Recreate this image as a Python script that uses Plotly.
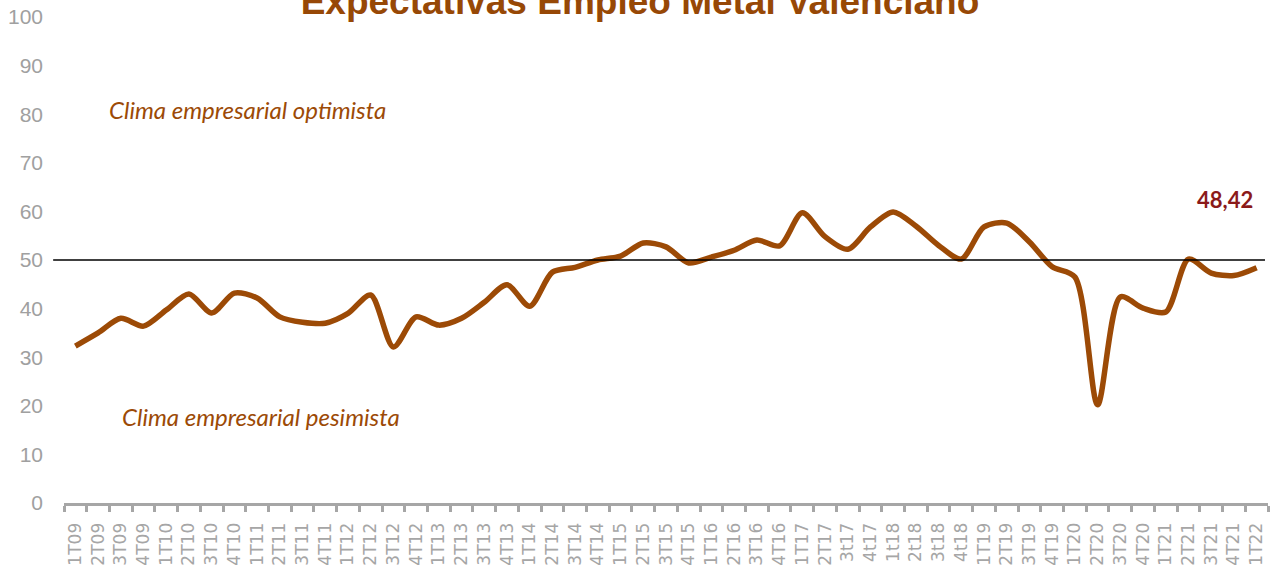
import plotly.graph_objects as go

categories = ["1T09","2T09","3T09","4T09","1T10","2T10","3T10","4T10","1T11","2T11","3T11","4T11",
              "1T12","2T12","3T12","4T12","1T13","2T13","3T13","4T13","1T14","2T14","3T14","4T14",
              "1T15","2T15","3T15","4T15","1T16","2T16","3T16","4T16","1T17","2T17","3t17","4t17",
              "1t18","2t18","3t18","4t18","1T19","2T19","3T19","4T19","1T20","2T20","3T20","4T20",
              "1T21","2T21","3T21","4T21","1T22"]
values = [32.3, 35.0, 38.0, 36.4, 39.7, 43.0, 39.1, 43.2, 42.2, 38.3, 37.2, 37.0,
          39.0, 42.8, 32.1, 38.3, 36.6, 38.0, 41.3, 44.9, 40.5, 47.5, 48.5, 50.0,
          50.8, 53.5, 52.7, 49.4, 50.6, 52.0, 54.1, 52.9, 59.7, 54.8, 52.2, 56.8,
          59.9, 57.0, 53.0, 50.2, 56.8, 57.6, 53.7, 48.6, 46.5, 20.2, 42.4, 40.1,
          39.3, 50.2, 47.3, 46.8, 48.42]
threshold = 50
title_text = "Expectativas Empleo Metal Valenciano"
last_label = "48,42"
zone_labels = ["Clima empresarial optimista", "Clima empresarial pesimista"]

brown = "#9C4A06"

fig = go.Figure()
fig.add_trace(go.Scatter(x=categories, y=values, mode="lines",
                         line=dict(color=brown, width=5.5, shape="spline", smoothing=0.8),
                         hoverinfo="x+y", showlegend=False))

fig.add_shape(type="line", xref="paper", yref="y", x0=-0.009, x1=0.9975,
              y0=threshold, y1=threshold, line=dict(color="black", width=1.5))

fig.add_annotation(text="<i>" + zone_labels[0] + "</i>", xref="paper", yref="y",
                   x=(247-64)/1204, y=81, showarrow=False,
                   font=dict(family="Lato", size=24, color=brown), xanchor="center")
fig.add_annotation(text="<i>" + zone_labels[1] + "</i>", xref="paper", yref="y",
                   x=(261-64)/1204, y=17.7, showarrow=False,
                   font=dict(family="Lato", size=24, color=brown), xanchor="center")
fig.add_annotation(text="<b>" + last_label + "</b>", xref="paper", yref="y",
                   x=(1225-64)/1204, y=62.5, showarrow=False, xanchor="center",
                   font=dict(family="Lato", size=22, color="#8B1A1A"))

fig.update_layout(
    width=1275, height=572,
    paper_bgcolor="white", plot_bgcolor="white",
    margin=dict(l=64, r=7, t=17, b=69, autoexpand=False),
    title=dict(text="<b>" + title_text + "</b>", x=640/1275, xanchor="center",
               y=1 - 1/572, yanchor="middle", yref="container",
               font=dict(family="Liberation Sans", size=37, color="#974806")),
    xaxis=dict(type="category", showgrid=False, showline=True, linecolor="#A6A6A6",
               linewidth=3, ticks="outside", tickson="boundaries", ticklen=6,
               tickcolor="#A6A6A6", tickwidth=3, tickangle=-90, automargin=False,
               tickmode="linear", dtick=1, ticklabelstandoff=10,
               tickfont=dict(family="DejaVu Sans", size=17, color="#A6A6A6"),
               range=[-0.5, len(categories) - 0.5]),
    yaxis=dict(range=[0, 100], dtick=10, showgrid=False, showline=False, zeroline=False,
               automargin=False,
               tickfont=dict(family="Liberation Sans", size=21, color="#A0A0A0"),
               ticklabelstandoff=20),
)

fig.write_html("out.html", config={"displayModeBar": False},
               post_script="document.body.style.margin='0';")
